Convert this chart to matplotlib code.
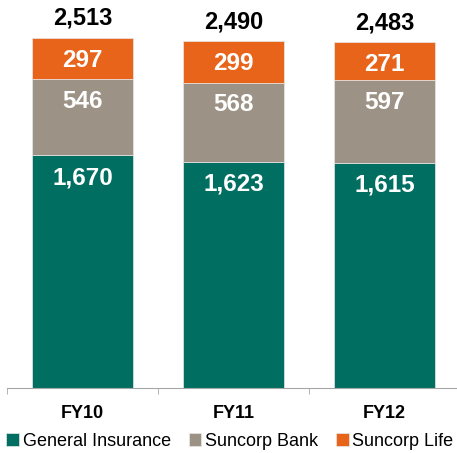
import numpy as np
import matplotlib.pyplot as plt

plt.rcParams["font.family"] = ["Liberation Sans", "DejaVu Sans"]

years = ['FY10', 'FY11', 'FY12']
general = [1670, 1623, 1615]
bank = [546, 568, 597]
life = [297, 299, 271]
totals = [2513, 2490, 2483]

colors = ['#006F62', '#9C9386', '#E8641A']
names = ['General Insurance', 'Suncorp Bank', 'Suncorp Life']

fig = plt.figure(figsize=(4.57, 4.53), dpi=100)
ax = fig.add_axes([7 / 457, 65 / 453, 453 / 457, 388 / 453])

x = np.arange(len(years))
w = 0.67
bottom = np.zeros(len(years))
for vals, c, n in zip([general, bank, life], colors, names):
    bars = ax.bar(x, vals, w, bottom=bottom, color=c, label=n,
                  edgecolor='#E8E8E8', linewidth=0.5)
    for xi, b, v in zip(x, bottom, vals):
        ax.annotate(f'{v:,}', (xi, b + v), xytext=(0, -16), textcoords='offset points',
                    ha='center', va='center', color='white', fontsize=17.5, fontweight='bold')
    bottom += np.array(vals)

for xi, t in zip(x, totals):
    ax.annotate(f'{t:,}', (xi, t), xytext=(0, 14), textcoords='offset points',
                ha='center', va='center', color='black', fontsize=17, fontweight='bold',
                annotation_clip=False)

ax.set_xlim(-0.5, 2.5)
ax.set_ylim(0, 2785)
for s in ['top', 'right', 'left']:
    ax.spines[s].set_visible(False)
ax.spines['bottom'].set_color('#A6A6A6')
ax.set_yticks([])
ax.set_xticks(x)
ax.set_xticklabels(years, fontsize=13, fontweight='bold')
ax.tick_params(axis='x', length=0, pad=12)
ax.set_xticks([-0.5, 0.5, 1.5, 2.5], minor=True)
ax.tick_params(axis='x', which='minor', length=4, color='#A6A6A6')

fig.legend(loc='center', bbox_to_anchor=(0.503, 12 / 453), ncol=3, frameon=False,
           fontsize=13, handlelength=0.7, handleheight=0.7, handletextpad=0.2,
           columnspacing=1.0, borderpad=0)

fig.savefig('out.png', dpi=100)
